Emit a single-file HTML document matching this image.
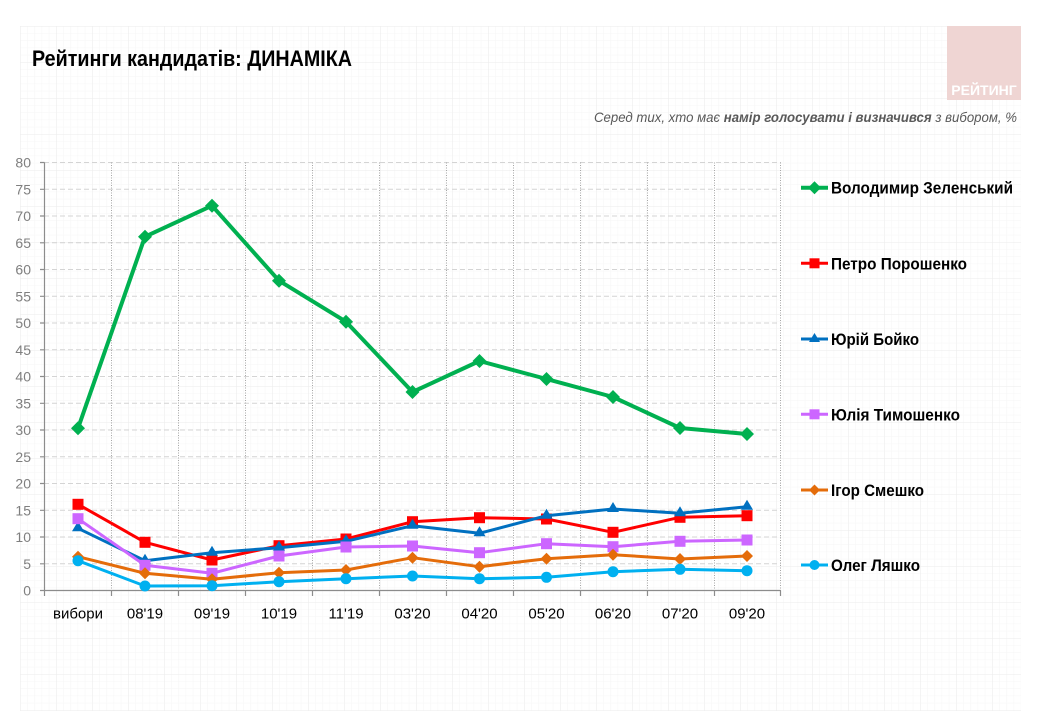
<!DOCTYPE html>
<html><head><meta charset="utf-8"><style>
html,body{margin:0;padding:0;background:#fff;}
body{width:1043px;height:711px;overflow:hidden;}
svg{display:block;}
text{font-family:"Liberation Sans",Arial,sans-serif;}
</style></head><body>
<svg width="1043" height="711" viewBox="0 0 1043 711" xmlns="http://www.w3.org/2000/svg">
<defs>
<pattern id="minor" width="7.2" height="7.2" patternUnits="userSpaceOnUse" x="20" y="26">
<path d="M0 0H7.2M0 0V7.2" stroke="rgba(0,0,0,0.035)" stroke-width="1" fill="none"/>
</pattern>
<pattern id="major" width="36" height="36" patternUnits="userSpaceOnUse" x="20" y="26">
<path d="M0 0H36M0 0V36" stroke="rgba(0,0,0,0.045)" stroke-width="1" fill="none"/>
</pattern>
</defs>
<rect x="0" y="0" width="1043" height="711" fill="#fff"/>
<rect x="20" y="26" width="1001" height="685" fill="url(#minor)"/>
<rect x="20" y="26" width="1001" height="685" fill="url(#major)"/>

<!-- logo -->
<rect x="947" y="26" width="74" height="74" fill="#efd5d3"/>
<text x="984" y="95" font-size="14" font-weight="bold" fill="#fff" text-anchor="middle">РЕЙТИНГ</text>

<!-- title -->
<text x="32" y="66" font-size="22" font-weight="bold" fill="#000" textLength="320" lengthAdjust="spacingAndGlyphs">Рейтинги кандидатів: ДИНАМІКА</text>
<text x="594" y="122" font-size="14" font-style="italic" fill="#595959" textLength="423" lengthAdjust="spacingAndGlyphs">Серед тих, хто має <tspan font-weight="bold">намір голосувати і визначився</tspan> з вибором, %</text>

<!-- horizontal gridlines -->
<g stroke="#d4d4d4" stroke-width="1" stroke-dasharray="5,3">
<line x1="44" y1="162.5" x2="781" y2="162.5"/>
<line x1="44" y1="189.3" x2="781" y2="189.3"/>
<line x1="44" y1="216" x2="781" y2="216"/>
<line x1="44" y1="242.8" x2="781" y2="242.8"/>
<line x1="44" y1="269.5" x2="781" y2="269.5"/>
<line x1="44" y1="296.3" x2="781" y2="296.3"/>
<line x1="44" y1="323" x2="781" y2="323"/>
<line x1="44" y1="349.8" x2="781" y2="349.8"/>
<line x1="44" y1="376.5" x2="781" y2="376.5"/>
<line x1="44" y1="403.3" x2="781" y2="403.3"/>
<line x1="44" y1="430" x2="781" y2="430"/>
<line x1="44" y1="456.8" x2="781" y2="456.8"/>
<line x1="44" y1="483.5" x2="781" y2="483.5"/>
<line x1="44" y1="510.3" x2="781" y2="510.3"/>
<line x1="44" y1="537" x2="781" y2="537"/>
<line x1="44" y1="563.8" x2="781" y2="563.8"/>
</g>
<!-- vertical gridlines -->
<g stroke="#a6a6a6" stroke-width="1" stroke-dasharray="1,1.5">
<line x1="111.5" y1="162.5" x2="111.5" y2="590.5"/>
<line x1="178.5" y1="162.5" x2="178.5" y2="590.5"/>
<line x1="245.5" y1="162.5" x2="245.5" y2="590.5"/>
<line x1="312.5" y1="162.5" x2="312.5" y2="590.5"/>
<line x1="379.5" y1="162.5" x2="379.5" y2="590.5"/>
<line x1="446.5" y1="162.5" x2="446.5" y2="590.5"/>
<line x1="513.5" y1="162.5" x2="513.5" y2="590.5"/>
<line x1="580.5" y1="162.5" x2="580.5" y2="590.5"/>
<line x1="647.5" y1="162.5" x2="647.5" y2="590.5"/>
<line x1="714.5" y1="162.5" x2="714.5" y2="590.5"/>
<line x1="780.5" y1="162.5" x2="780.5" y2="590.5"/>
</g>
<!-- axes -->
<g stroke="#8c8c8c" stroke-width="1.2" fill="none">
<line x1="44.5" y1="162.5" x2="44.5" y2="591"/>
<line x1="44" y1="590.5" x2="781" y2="590.5"/>
<path d="M40 162.5H44.5M40 189.3H44.5M40 216H44.5M40 242.8H44.5M40 269.5H44.5M40 296.3H44.5M40 323H44.5M40 349.8H44.5M40 376.5H44.5M40 403.3H44.5M40 430H44.5M40 456.8H44.5M40 483.5H44.5M40 510.3H44.5M40 537H44.5M40 563.8H44.5M40 590.5H44.5"/>
<path d="M44.5 590.5V596M111.5 590.5V596M178.5 590.5V596M245.5 590.5V596M312.5 590.5V596M379.5 590.5V596M446.5 590.5V596M513.5 590.5V596M580.5 590.5V596M647.5 590.5V596M714.5 590.5V596M780.5 590.5V596"/>
</g>
<!-- y labels -->
<g font-size="14" fill="#7f7f7f" text-anchor="end">
<text x="31" y="167.5">80</text>
<text x="31" y="194.3">75</text>
<text x="31" y="221">70</text>
<text x="31" y="247.8">65</text>
<text x="31" y="274.5">60</text>
<text x="31" y="301.3">55</text>
<text x="31" y="328">50</text>
<text x="31" y="354.8">45</text>
<text x="31" y="381.5">40</text>
<text x="31" y="408.3">35</text>
<text x="31" y="435">30</text>
<text x="31" y="461.8">25</text>
<text x="31" y="488.5">20</text>
<text x="31" y="515.3">15</text>
<text x="31" y="542">10</text>
<text x="31" y="568.8">5</text>
<text x="31" y="595.5">0</text>
</g>
<!-- x labels -->
<g font-size="15" fill="#000" text-anchor="middle">
<text x="78" y="618.5">вибори</text>
<text x="145" y="618.5">08'19</text>
<text x="212" y="618.5">09'19</text>
<text x="279" y="618.5">10'19</text>
<text x="346" y="618.5">11'19</text>
<text x="412.5" y="618.5">03'20</text>
<text x="479.5" y="618.5">04'20</text>
<text x="546.5" y="618.5">05'20</text>
<text x="613" y="618.5">06'20</text>
<text x="680" y="618.5">07'20</text>
<text x="747" y="618.5">09'20</text>
</g>

<!-- Zelensky -->
<g fill="#00b050">
<polyline fill="none" stroke="#00b050" stroke-width="4" stroke-linejoin="round" points="78,428.3 145,236.7 212,205.7 279,280.7 346,321.7 412.5,392 479.5,361 546.5,379 613,397 680,428 747,434"/>
<path d="M78 421.3l7 7-7 7-7-7zM145 229.7l7 7-7 7-7-7zM212 198.7l7 7-7 7-7-7zM279 273.7l7 7-7 7-7-7zM346 314.7l7 7-7 7-7-7zM412.5 385l7 7-7 7-7-7zM479.5 354l7 7-7 7-7-7zM546.5 372l7 7-7 7-7-7zM613 390l7 7-7 7-7-7zM680 421l7 7-7 7-7-7zM747 427l7 7-7 7-7-7z"/>
</g>
<!-- Poroshenko -->
<g fill="#ff0000">
<polyline fill="none" stroke="#ff0000" stroke-width="3" stroke-linejoin="round" points="78,504.3 145,542.3 212,560 279,545.7 346,539 412.5,521.7 479.5,517.7 546.5,519 613,532.3 680,517.3 747,515.7"/>
<rect x="72.5" y="498.8" width="11" height="11"/><rect x="139.5" y="536.8" width="11" height="11"/><rect x="206.5" y="554.5" width="11" height="11"/><rect x="273.5" y="540.2" width="11" height="11"/><rect x="340.5" y="533.5" width="11" height="11"/><rect x="407" y="516.2" width="11" height="11"/><rect x="474" y="512.2" width="11" height="11"/><rect x="541" y="513.5" width="11" height="11"/><rect x="607.5" y="526.8" width="11" height="11"/><rect x="674.5" y="511.8" width="11" height="11"/><rect x="741.5" y="510.2" width="11" height="11"/>
</g>
<!-- Boyko -->
<g fill="#0070c0">
<polyline fill="none" stroke="#0070c0" stroke-width="3" stroke-linejoin="round" points="78,528.3 145,560.7 212,552.7 279,547.7 346,541.3 412.5,525.7 479.5,533.3 546.5,515.7 613,509 680,513.3 747,506.7"/>
<path d="M78 521.3l6 10h-12zM145 553.7l6 10h-12zM212 545.7l6 10h-12zM279 540.7l6 10h-12zM346 534.3l6 10h-12zM412.5 518.7l6 10h-12zM479.5 526.3l6 10h-12zM546.5 508.7l6 10h-12zM613 502l6 10h-12zM680 506.3l6 10h-12zM747 499.7l6 10h-12z"/>
</g>
<!-- Tymoshenko -->
<g fill="#cc66ff">
<polyline fill="none" stroke="#cc66ff" stroke-width="3" stroke-linejoin="round" points="78,518.7 145,565.3 212,573.3 279,556 346,547 412.5,546 479.5,552.7 546.5,543.7 613,546.7 680,541.3 747,540"/>
<rect x="72.5" y="513.2" width="11" height="11"/><rect x="139.5" y="559.8" width="11" height="11"/><rect x="206.5" y="567.8" width="11" height="11"/><rect x="273.5" y="550.5" width="11" height="11"/><rect x="340.5" y="541.5" width="11" height="11"/><rect x="407" y="540.5" width="11" height="11"/><rect x="474" y="547.2" width="11" height="11"/><rect x="541" y="538.2" width="11" height="11"/><rect x="607.5" y="541.2" width="11" height="11"/><rect x="674.5" y="535.8" width="11" height="11"/><rect x="741.5" y="534.5" width="11" height="11"/>
</g>
<!-- Smeshko -->
<g fill="#e46c0a">
<polyline fill="none" stroke="#e46c0a" stroke-width="3" stroke-linejoin="round" points="78,556.7 145,573.3 212,579.3 279,572.7 346,570 412.5,557.7 479.5,566.7 546.5,558.7 613,554.7 680,559 747,556"/>
<path d="M78 550.7l6 6-6 6-6-6zM145 567.3l6 6-6 6-6-6zM212 573.3l6 6-6 6-6-6zM279 566.7l6 6-6 6-6-6zM346 564l6 6-6 6-6-6zM412.5 551.7l6 6-6 6-6-6zM479.5 560.7l6 6-6 6-6-6zM546.5 552.7l6 6-6 6-6-6zM613 548.7l6 6-6 6-6-6zM680 553l6 6-6 6-6-6zM747 550l6 6-6 6-6-6z"/>
</g>
<!-- Lyashko -->
<g fill="#00b0f0">
<polyline fill="none" stroke="#00b0f0" stroke-width="3" stroke-linejoin="round" points="78,560.7 145,586 212,585.7 279,581.7 346,578.7 412.5,576 479.5,578.7 546.5,577.3 613,571.7 680,569.3 747,570.7"/>
<circle cx="78" cy="560.7" r="5.5"/><circle cx="145" cy="586" r="5.5"/><circle cx="212" cy="585.7" r="5.5"/><circle cx="279" cy="581.7" r="5.5"/><circle cx="346" cy="578.7" r="5.5"/><circle cx="412.5" cy="576" r="5.5"/><circle cx="479.5" cy="578.7" r="5.5"/><circle cx="546.5" cy="577.3" r="5.5"/><circle cx="613" cy="571.7" r="5.5"/><circle cx="680" cy="569.3" r="5.5"/><circle cx="747" cy="570.7" r="5.5"/>
</g>

<!-- legend -->
<g font-size="16.5" font-weight="bold" fill="#000">
<line x1="801" y1="187.7" x2="828" y2="187.7" stroke="#00b050" stroke-width="4"/>
<path d="M814.5 181.2l6.5 6.5-6.5 6.5-6.5-6.5z" fill="#00b050"/>
<text x="831" y="193.7" textLength="182" lengthAdjust="spacingAndGlyphs">Володимир Зеленський</text>

<line x1="801" y1="263.3" x2="828" y2="263.3" stroke="#ff0000" stroke-width="3"/>
<rect x="809.5" y="258.3" width="10" height="10" fill="#ff0000"/>
<text x="831" y="269.3" textLength="136" lengthAdjust="spacingAndGlyphs">Петро Порошенко</text>

<line x1="801" y1="339" x2="828" y2="339" stroke="#0070c0" stroke-width="3"/>
<path d="M814.5 333l5.5 9h-11z" fill="#0070c0"/>
<text x="831" y="345" textLength="88" lengthAdjust="spacingAndGlyphs">Юрій Бойко</text>

<line x1="801" y1="414.3" x2="828" y2="414.3" stroke="#cc66ff" stroke-width="3"/>
<rect x="809.5" y="409.3" width="10" height="10" fill="#cc66ff"/>
<text x="831" y="420.3" textLength="129" lengthAdjust="spacingAndGlyphs">Юлія Тимошенко</text>

<line x1="801" y1="490" x2="828" y2="490" stroke="#e46c0a" stroke-width="3"/>
<path d="M814.5 484.5l5.5 5.5-5.5 5.5-5.5-5.5z" fill="#e46c0a"/>
<text x="831" y="496" textLength="93" lengthAdjust="spacingAndGlyphs">Ігор Смешко</text>

<line x1="801" y1="565" x2="828" y2="565" stroke="#00b0f0" stroke-width="3"/>
<circle cx="814.5" cy="565" r="5" fill="#00b0f0"/>
<text x="831" y="571" textLength="89" lengthAdjust="spacingAndGlyphs">Олег Ляшко</text>
</g>
</svg>
</body></html>
